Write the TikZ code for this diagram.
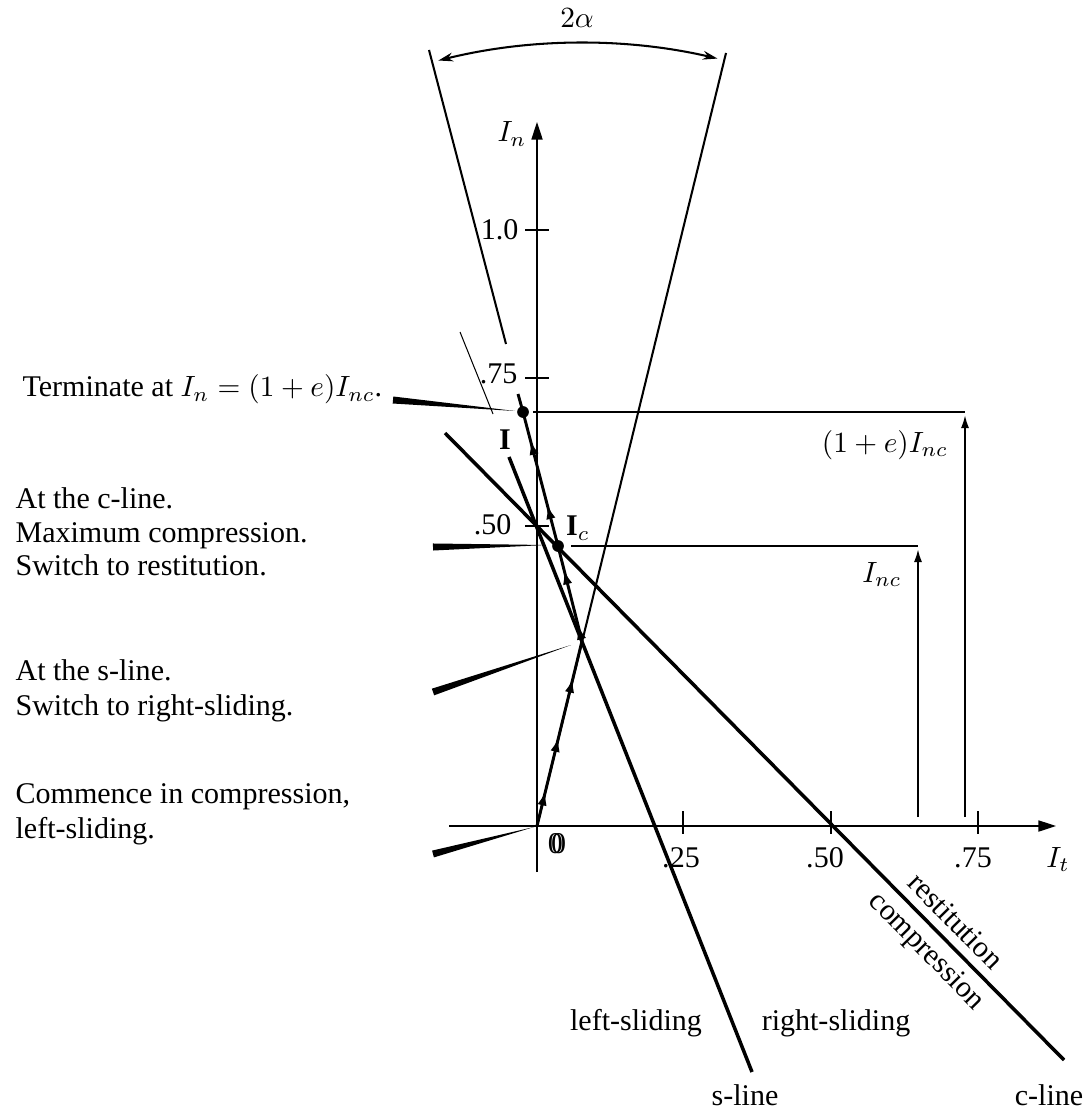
\documentclass[tikz,border=0pt]{standalone}
\usepackage{fontspec}
\setmainfont{Liberation Serif}
\usetikzlibrary{arrows.meta, calc, decorations.markings}

% tapered black pointer from a thick end to a fine point
\newcommand{\wedgeto}[2]{\fill (#2) -- ($(#1)!1.2pt!90:(#2)$) -- ($(#1)!1.2pt!-90:(#2)$) -- cycle;}

\begin{document}
\begin{tikzpicture}[
    x=0.012cm, y=-0.012cm,
    font=\fontsize{10.25}{12}\selectfont,
    axis/.style={line width=0.45pt, -{Triangle[length=6pt,width=3.8pt]}},
    tickmark/.style={line width=0.4pt},
    boundary/.style={line width=1.2pt},
    cone/.style={line width=0.7pt},
    level/.style={line width=0.8pt},
    rise/.style={line width=0.7pt, -{Latex[length=4.5pt,width=2.8pt]}},
    impulse/.style={line width=1pt},
    tipat/.style={postaction={decorate, decoration={markings, mark=at position #1 with {\arrow{Latex[length=5pt,width=3.2pt]}}}}},
    dot/.style={circle, fill, inner sep=0pt, minimum size=4pt},
    note/.style={anchor=base west, inner sep=0pt},
    tag/.style={inner sep=0pt}
]
    \useasboundingbox (0,0) rectangle (1085,1108);

    % Key points
    \coordinate (O) at (537,826);
    \coordinate (A) at (582,641);
    \coordinate (Ic) at (558,546);
    \coordinate (E) at (523,412);
    \coordinate (Etop) at (518,394);
    \coordinate (L1) at (429,50);
    \coordinate (L2) at (506,344);
    \coordinate (R1) at (726,53);

    % Axes and ticks
    \draw[axis] (537,872) -- (537,122);
    \draw[axis] (449,826) -- (1056,826);
    \foreach \y in {230,378,526} \draw[tickmark] (525,\y) -- (549,\y);
    \foreach \x in {683,831,978} \draw[tickmark] (\x,811) -- (\x,834);

    \node[tag, anchor=base] (In) at (512,142) {$I_n$};
    \node[tag, anchor=east] (n100) at (519,230) {1.0};
    \node[tag, anchor=east] (n075) at (518,374) {.75};
    \node[tag, anchor=east] (n050) at (512,525) {.50};
    \node[tag, anchor=base] (zero) at (557,853) {\rlap{0}\kern1.1pt 0};
    \node[tag, anchor=base] (t025) at (681,867) {.25};
    \node[tag, anchor=base] (t050) at (825,867) {.50};
    \node[tag, anchor=base] (t075) at (973,867) {.75};
    \node[tag, anchor=base] (It) at (1058,867) {$I_t$};

    % Friction cone
    \draw[cone] (L1) -- (L2);
    \draw[cone] (R1) -- (O);
    \draw[cone, {Stealth[length=5pt,width=3pt]}-{Stealth[length=5pt,width=3pt]}]
        ($(A)+(-103.9:598)$) arc[start angle=-103.9, end angle=-76.9, radius=598];
    \node[tag, anchor=base] (alpha) at (577,28) {$2\alpha$};

    % s-line and c-line
    \draw[boundary] (509,457) -- (752,1072);
    \draw[boundary] (445,433) -- (1064,1060);
    \node[tag, rotate=-45.5] (rest) at (956,921) {restitution};
    \node[tag, rotate=-45.5] (comp) at (926,952) {compression};
    \node[tag] (lsl) at (636,1023) {left-sliding};
    \node[tag] (rsl) at (836,1023) {right-sliding};
    \node[tag] (sl) at (745,1095) {s-line};
    \node[tag] (cl) at (1049,1095) {c-line};

    % Impulse path
    \draw[impulse, tipat=0.19, tipat=0.48, tipat=0.8] (O) -- (A);
    \draw[impulse, tipat=0.17, tipat=0.75] (A) -- (Ic);
    \draw[impulse, tipat=0.31, tipat=0.79] (Ic) -- (E);
    \draw[impulse] (E) -- (Etop);
    \node[dot] (Edot) at (E) {};
    \node[dot] (Icdot) at (Ic) {};
    \node[tag] (Ilab) at (505,440) {$\mathbf{I}$};
    \node[tag] (Iclab) at (578,528) {$\mathbf{I}_c$};
    \draw[line width=0.35pt] (460,332) -- (493,414);

    % Levels I_nc and (1+e)I_nc
    \draw[level] (533,412) -- (965,412);
    \draw[level] (571,546) -- (918,546);
    \draw[rise] (918,817) -- (918,549);
    \draw[rise] (965,817) -- (965,415);
    \node[tag, anchor=base] (eInc) at (885,452) {$(1+e)I_{nc}$};
    \node[tag, anchor=base] (Inc) at (882,582) {$I_{nc}$};

    % Notes on the left
    \node[note] (term) at (22,397) {Terminate at $I_n=(1+e)I_{nc}$.};
    \node[note] (cl1) at (15,508) {At the c-line.};
    \node[note] (cl2) at (15,542) {Maximum compression.};
    \node[note] (cl3) at (15,575) {Switch to restitution.};
    \node[note] (sl1) at (15,680) {At the s-line.};
    \node[note] (sl2) at (15,715) {Switch to right-sliding.};
    \node[note] (cm1) at (15,803) {Commence in compression,};
    \node[note] (cm2) at (15,838) {left-sliding.};
    \wedgeto{393,400}{515,411}
    \wedgeto{433,547}{546,545}
    \wedgeto{433,692}{571,645}
    \wedgeto{433,854}{534,827}
\end{tikzpicture}
\end{document}
